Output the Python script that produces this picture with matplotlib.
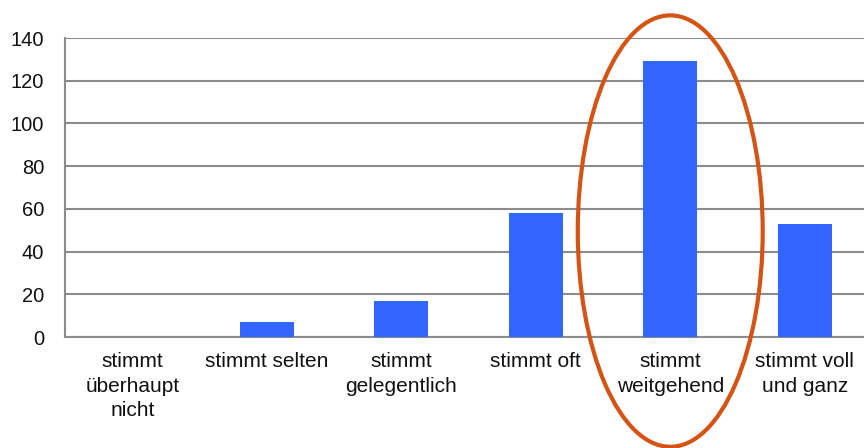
import matplotlib

matplotlib.use("Agg")
import matplotlib.pyplot as plt
from matplotlib.patches import Ellipse

plt.rcParams["font.family"] = ["Liberation Sans", "DejaVu Sans"]

categories = [
    "stimmt\nüberhaupt\nnicht",
    "stimmt selten",
    "stimmt\ngelegentlich",
    "stimmt oft",
    "stimmt\nweitgehend",
    "stimmt voll\nund ganz",
]
counts = [0, 7, 17, 58, 129, 53]
y_ticks = [0, 20, 40, 60, 80, 100, 120, 140]
highlight = 4

bar_color = "#3366FF"
grid_color = "#8C8C8C"
ring_color = "#D35414"

fig = plt.figure(figsize=(8.64, 4.48), dpi=100)
# axes run a little past the right edge, as in the cropped original
ax = fig.add_axes([65 / 864, (448 - 337) / 448, 807 / 864, 299 / 448])

x = list(range(len(categories)))
ax.bar(x, counts, width=0.4, color=bar_color, zorder=3)

ax.set_xlim(-0.5, len(categories) - 0.5)
ax.set_ylim(0, 140)
ax.set_yticks(y_ticks)
ax.set_xticks(x)
ax.set_xticklabels(categories, fontsize=15, color="#111111", linespacing=1.35)
ax.tick_params(axis="y", length=0, pad=15, labelsize=14.5, labelcolor="#111111")
ax.tick_params(axis="x", length=0, pad=11)

ax.yaxis.grid(True, color=grid_color, linewidth=1.5, zorder=0)
for side in ("top", "right"):
    ax.spines[side].set_visible(False)
for side in ("left", "bottom"):
    ax.spines[side].set_color(grid_color)
    ax.spines[side].set_linewidth(1.5)

ring = Ellipse(
    (highlight, 49.6),
    width=1.375,
    height=202,
    fill=False,
    edgecolor=ring_color,
    linewidth=3,
    clip_on=False,
    zorder=4,
)
ax.add_patch(ring)

fig.savefig("out.png", dpi=100)
plt.close(fig)
